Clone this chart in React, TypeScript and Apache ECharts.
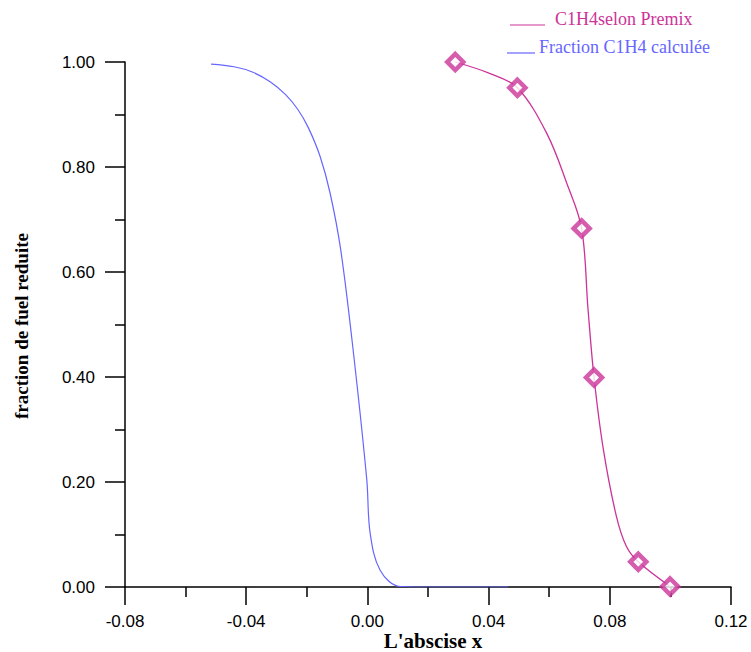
import React, { useEffect, useRef } from "react";
import * as echarts from "echarts";

// Blue curve: "Fraction C1H4 calculée" (x, fraction)
const calcX = [-0.0516, -0.0440, -0.0380, -0.0320, -0.0270, -0.0230, -0.0195, -0.0156, -0.0123, -0.0088, -0.0047, -0.0002, 0.0009, 0.0042, 0.0108, 0.0250, 0.0465];
const calcY = [0.996, 0.991, 0.981, 0.962, 0.938, 0.910, 0.875, 0.820, 0.750, 0.642, 0.451, 0.204, 0.103, 0.032, 0.001, 0.0, 0.0];

// Magenta curve: "C1H4selon Premix" (smooth line)
const premixLineX = [0.029, 0.0405, 0.0495, 0.0592, 0.0658, 0.0707, 0.0728, 0.0748, 0.0779, 0.0822, 0.0855, 0.0894, 0.0999];
const premixLineY = [1.0, 0.978, 0.951, 0.864, 0.769, 0.683, 0.530, 0.399, 0.261, 0.134, 0.077, 0.048, 0.001];

// Markers of "C1H4selon Premix"
const premixPtX = [0.029, 0.0495, 0.0707, 0.0748, 0.0894, 0.0999];
const premixPtY = [1.0, 0.951, 0.683, 0.399, 0.048, 0.001];

const legendNames = ["C1H4selon Premix", "Fraction C1H4 calculée"];
const xAxisName = "L'abscise x";
const yAxisName = "fraction de fuel reduite";

const MAGENTA = "#cc3399";
const BLUE = "#6666ff";

const fmt = (v: number) => (Math.abs(v) < 1e-9 ? "0.00" : v.toFixed(2));

export default function App() {
  const ref = useRef<HTMLDivElement>(null);
  useEffect(() => {
    document.body.style.margin = "0";
    if (!ref.current) return;
    const chart = echarts.init(ref.current, null, { renderer: "svg" });
    const zip = (xs: number[], ys: number[]) => xs.map((x, i) => [x, ys[i]]);
    const axisCommon = {
      axisLine: { show: true, onZero: false, lineStyle: { color: "#000", width: 1.5 } },
      splitLine: { show: false },
      axisLabel: {
        color: "#000",
        fontFamily: "Liberation Sans, Arial, sans-serif",
        fontSize: 17,
        formatter: fmt,
      },
    };
    chart.setOption({
      animation: false,
      backgroundColor: "#fff",
      grid: { left: 125, right: 20, top: 62, bottom: 65, containLabel: false },
      xAxis: {
        type: "value",
        min: -0.08,
        max: 0.12,
        interval: 0.04,
        ...axisCommon,
        axisTick: { show: true, length: 18, lineStyle: { color: "#000", width: 1.5 } },
        minorTick: { show: true, splitNumber: 2, length: 10, lineStyle: { color: "#000", width: 1.5 } },
        minorSplitLine: { show: false },
        axisLabel: { ...axisCommon.axisLabel, margin: 26 },
      },
      yAxis: {
        type: "value",
        min: 0,
        max: 1,
        interval: 0.2,
        ...axisCommon,
        axisTick: { show: true, length: 20, lineStyle: { color: "#000", width: 1.5 } },
        minorTick: { show: true, splitNumber: 2, length: 10, lineStyle: { color: "#000", width: 1.5 } },
        minorSplitLine: { show: false },
        axisLabel: { ...axisCommon.axisLabel, margin: 30 },
      },
      series: [
        {
          name: legendNames[1],
          type: "line",
          data: zip(calcX, calcY),
          showSymbol: false,
          symbol: "none",
          smooth: 0.35,
          lineStyle: { color: BLUE, width: 1.2 },
          z: 3,
        },
        {
          name: legendNames[0],
          type: "line",
          data: zip(premixLineX, premixLineY),
          showSymbol: false,
          symbol: "none",
          smooth: 0.35,
          lineStyle: { color: MAGENTA, width: 1.3 },
          z: 3,
        },
        {
          name: legendNames[0] + " points",
          type: "scatter",
          data: zip(premixPtX, premixPtY),
          symbol: "diamond",
          symbolSize: 16,
          itemStyle: { color: "#fff", borderColor: MAGENTA, borderWidth: 4.5 },
          z: 4,
        },
      ],
      graphic: [
        { type: "line", shape: { x1: 510, y1: 25, x2: 545, y2: 25 }, style: { stroke: MAGENTA, lineWidth: 1.2 } },
        {
          type: "text",
          x: 555,
          y: 19,
          style: {
            text: legendNames[0],
            fill: MAGENTA,
            font: "18px 'Liberation Serif', 'Times New Roman', serif",
            align: "left",
            verticalAlign: "middle",
          },
        },
        { type: "line", shape: { x1: 507, y1: 53, x2: 535, y2: 53 }, style: { stroke: BLUE, lineWidth: 1.2 } },
        {
          type: "text",
          x: 539,
          y: 47,
          style: {
            text: legendNames[1],
            fill: BLUE,
            font: "18px 'Liberation Serif', 'Times New Roman', serif",
            align: "left",
            verticalAlign: "middle",
          },
        },
        {
          type: "text",
          x: 433,
          y: 641,
          style: {
            text: xAxisName,
            fill: "#000",
            font: "bold 21px 'Liberation Serif', 'Times New Roman', serif",
            align: "center",
            verticalAlign: "middle",
          },
        },
        {
          type: "text",
          x: 21,
          y: 326,
          rotation: Math.PI / 2,
          style: {
            text: yAxisName,
            fill: "#000",
            font: "bold 19px 'Liberation Serif', 'Times New Roman', serif",
            align: "center",
            verticalAlign: "middle",
          },
        },
      ],
    });
    return () => chart.dispose();
  }, []);
  return <div ref={ref} style={{ width: 751, height: 652 }} />;
}
